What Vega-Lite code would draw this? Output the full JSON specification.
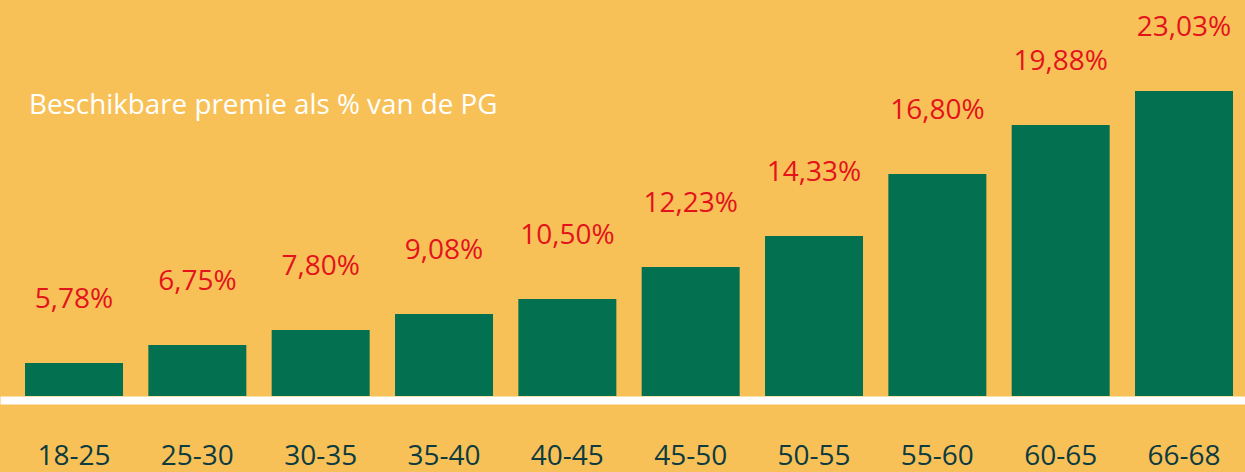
{
  "$schema": "https://vega.github.io/schema/vega-lite/v6.json",
  "width": 1245,
  "height": 396,
  "autosize": {"type": "none"},
  "padding": {"left": 0, "top": 0, "right": 0, "bottom": 76},
  "background": "#F7C158",
  "config": {"view": {"stroke": null}, "font": "Open Sans"},
  "title": {
    "text": "Beschikbare premie als % van de PG",
    "anchor": "start",
    "frame": "group",
    "orient": "top",
    "offset": -142,
    "baseline": "alphabetic",
    "dx": 29,
    "color": "#FFFFFF",
    "fontSize": 27.8,
    "fontWeight": "normal",
    "font": "Open Sans"
  },
  "data": {
    "values": [
      {"leeftijd": "18-25", "premie": "5,78%", "hoogte": 33},
      {"leeftijd": "25-30", "premie": "6,75%", "hoogte": 51},
      {"leeftijd": "30-35", "premie": "7,80%", "hoogte": 66},
      {"leeftijd": "35-40", "premie": "9,08%", "hoogte": 82},
      {"leeftijd": "40-45", "premie": "10,50%", "hoogte": 97},
      {"leeftijd": "45-50", "premie": "12,23%", "hoogte": 129},
      {"leeftijd": "50-55", "premie": "14,33%", "hoogte": 160},
      {"leeftijd": "55-60", "premie": "16,80%", "hoogte": 222},
      {"leeftijd": "60-65", "premie": "19,88%", "hoogte": 271},
      {"leeftijd": "66-68", "premie": "23,03%", "hoogte": 305}
    ]
  },
  "encoding": {
    "x": {
      "field": "leeftijd",
      "type": "ordinal",
      "sort": null,
      "scale": {"paddingInner": 0.2054, "paddingOuter": 0.15, "align": 0.676},
      "axis": {
        "title": null,
        "ticks": false,
        "domainColor": "#FFFFFF",
        "domainWidth": 8,
        "offset": 4,
        "labelAngle": 0,
        "labelBaseline": "alphabetic",
        "labelPadding": 64,
        "labelFont": "Open Sans",
        "labelFontSize": 28,
        "labelColor": "#0D3B3F"
      }
    },
    "y": {
      "field": "hoogte",
      "type": "quantitative",
      "scale": {"domain": [0, 396], "nice": false},
      "axis": null
    }
  },
  "layer": [
    {"mark": {"type": "bar", "color": "#03704F"}},
    {
      "mark": {
        "type": "text",
        "color": "#E3131B",
        "font": "Open Sans",
        "fontSize": 28,
        "baseline": "middle",
        "dy": -63
      },
      "encoding": {"text": {"field": "premie"}}
    }
  ]
}
